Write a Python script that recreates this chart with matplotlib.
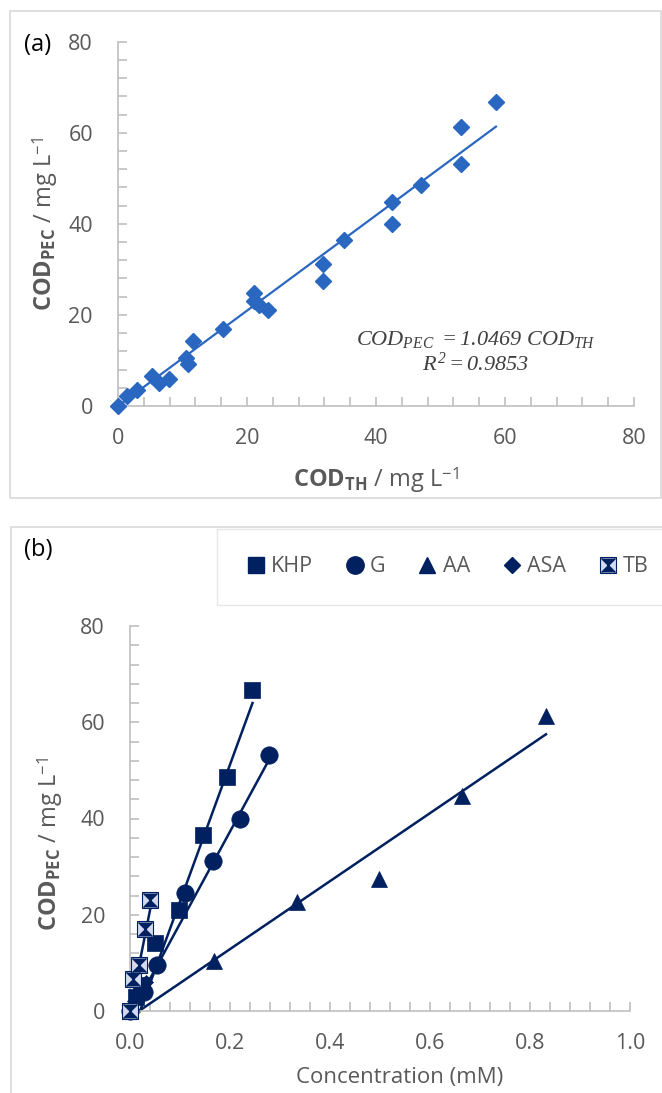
import matplotlib
matplotlib.use('Agg')
import matplotlib.pyplot as plt
from matplotlib.lines import Line2D
from matplotlib.patches import Rectangle
from matplotlib.path import Path
from matplotlib.ticker import MultipleLocator, FormatStrFormatter

W, H = 662, 1093

plt.rcParams['font.family'] = ['Open Sans', 'DejaVu Sans']
plt.rcParams['mathtext.fontset'] = 'custom'
# rm/it serve the italic serif equation, sf/bf the sans axis labels
plt.rcParams['mathtext.rm'] = 'Liberation Serif:italic'
plt.rcParams['mathtext.it'] = 'Liberation Serif:italic'
plt.rcParams['mathtext.sf'] = 'Open Sans'
plt.rcParams['mathtext.bf'] = 'Open Sans:bold'

# ---- panel (a): COD_PEC vs COD_TH
cod_th = [0, 1.4, 3.0, 5.2, 6.3, 7.9, 10.6, 10.8, 11.6, 16.3, 21.1, 21.1, 21.8, 23.3,
          31.8, 31.8, 35.1, 42.5, 42.5, 46.9, 53.2, 53.2, 58.6]
cod_pec = [0, 2.3, 3.6, 6.6, 5.1, 6.0, 10.6, 9.3, 14.2, 16.8, 24.8, 23.0, 22.2, 21.0,
           31.1, 27.5, 36.4, 44.8, 39.9, 48.6, 61.2, 53.2, 66.8]
slope_a = 1.0469
fit_a_x = [0, 58.6]

# ---- panel (b): COD_PEC vs concentration
khp_x = [0, 0.0125, 0.024, 0.049, 0.097, 0.146, 0.193, 0.243]
khp_y = [0, 3.0, 5.5, 14.2, 21.0, 36.6, 48.6, 66.8]
g_x = [0, 0.027, 0.054, 0.11, 0.166, 0.22, 0.277]
g_y = [0, 4.0, 9.6, 24.5, 31.2, 40.0, 53.2]
aa_x = [0, 0.167, 0.333, 0.498, 0.664, 0.832]
aa_y = [0, 10.4, 22.7, 27.5, 44.6, 61.3]
asa_x = [0, 0.008, 0.016, 0.024, 0.032]
asa_y = [0, 2.0, 3.2, 4.6, 6.0]
tb_x = [0, 0.006, 0.018, 0.03, 0.04]
tb_y = [0, 6.6, 9.6, 17.0, 23.0]

# trend lines (end points)
khp_fit = ([0.02, 0.245], [0, 64.0])
g_fit = ([0.005, 0.277], [0, 52.0])
aa_fit = ([0.018, 0.832], [0, 57.5])
asa_fit = ([0, 0.032], [0, 6.0])
tb_fit = ([0, 0.042], [0, 22.0])

labels_b = ['KHP', 'G', 'AA', 'ASA', 'TB']

blue = '#2a67c0'
navy = '#002060'
grey_txt = '#595959'
grey_ax = '#bfbfbf'

ylab = r'$\mathbf{COD_{PEC}}$ / mg L$^{\mathsf{-1}}$'
xlab = r'$\mathbf{COD_{TH}}$ / mg L$^{\mathsf{-1}}$'


def fx(x):
    return x / W


def fy(y):
    return 1 - y / H


def box(l, t, r, b):
    return [fx(l), fy(b), (r - l) / W, (b - t) / H]


def style(ax, xstep, ystep):
    for s in ['top', 'right']:
        ax.spines[s].set_visible(False)
    for s in ['left', 'bottom']:
        ax.spines[s].set_color(grey_ax)
        ax.spines[s].set_linewidth(1.2)
    ax.xaxis.set_minor_locator(MultipleLocator(xstep))
    ax.yaxis.set_minor_locator(MultipleLocator(ystep))
    ax.tick_params(which='both', direction='in', length=6.5, width=1.2, color=grey_ax,
                   labelcolor=grey_txt, labelsize=15.5)
    ax.tick_params(axis='y', which='both', pad=18)
    ax.tick_params(axis='x', which='both', pad=16)
    ax.set_facecolor('none')


fig = plt.figure(figsize=(W / 100, H / 100), dpi=100)

# outer frames
fig.patches.append(Rectangle((fx(10), fy(498)), (651) / W, (487) / H, transform=fig.transFigure,
                             fill=False, ec='#d9d9d9', lw=1.2))
fig.patches.append(Rectangle((fx(11), fy(1110)), (700) / W, (583) / H, transform=fig.transFigure,
                             fill=False, ec='#d9d9d9', lw=1.2))
# legend frame
fig.patches.append(Rectangle((fx(217), fy(605)), (460) / W, (76) / H, transform=fig.transFigure,
                             fill=False, ec='#e6e6e6', lw=1.0))

# ---- panel (a)
ax1 = fig.add_axes(box(118, 41.7, 634, 406))
style(ax1, 4, 4)
ax1.set_xlim(0, 80)
ax1.set_ylim(0, 80)
ax1.set_xticks([0, 20, 40, 60, 80])
ax1.set_yticks([0, 20, 40, 60, 80])
ax1.plot(fit_a_x, [slope_a * v for v in fit_a_x], color=blue, lw=1.6, zorder=2)
ax1.plot(cod_th, cod_pec, ls='none', marker='D', ms=8.5, mfc=blue, mec=blue, mew=1,
         clip_on=False, zorder=3)
ax1.text(55.5, 14.6, r'$COD_{PEC}\ = 1.0469\ COD_{TH}$',
         fontsize=16, color='#404040', ha='center', va='center')
ax1.text(55.5, 9.2, r'$R^2 = 0.9853$',
         fontsize=16, color='#404040', ha='center', va='center')

fig.text(fx(24), fy(45), '(a)', fontsize=17, color='black', va='center')
fig.text(fx(45), fy(224), ylab, rotation=90,
         fontsize=17, color=grey_txt, ha='center', va='center')
fig.text(fx(376), fy(480), xlab,
         fontsize=17, color=grey_txt, ha='center', va='center')

# ---- panel (b)
ax2 = fig.add_axes(box(130, 626, 630, 1011))
style(ax2, 0.04, 4)
ax2.set_xlim(0, 1.0)
ax2.set_ylim(0, 80)
ax2.set_xticks([0, 0.2, 0.4, 0.6, 0.8, 1.0])
ax2.set_yticks([0, 20, 40, 60, 80])
ax2.xaxis.set_major_formatter(FormatStrFormatter('%.1f'))

hg = Path([(-1, 1), (1, 1), (0, 0), (-1, 1), (-1, -1), (1, -1), (0, 0), (-1, -1)],
          [Path.MOVETO, Path.LINETO, Path.LINETO, Path.CLOSEPOLY,
           Path.MOVETO, Path.LINETO, Path.LINETO, Path.CLOSEPOLY])

for fx_, fy_ in [khp_fit, g_fit, aa_fit, asa_fit, tb_fit]:
    ax2.plot(fx_, fy_, color=navy, lw=1.8, zorder=2, clip_on=False)

kw = dict(ls='none', clip_on=False, zorder=3)
ax2.plot(khp_x, khp_y, marker='s', ms=12, mfc=navy, mec=navy, mew=0.5, **kw)
ax2.plot(g_x, g_y, marker='o', ms=12.5, mfc=navy, mec=navy, mew=0.5, **kw)
ax2.plot(aa_x, aa_y, marker='^', ms=12, mfc=navy, mec=navy, mew=0.5, **kw)
ax2.plot(asa_x, asa_y, marker='D', ms=7, mfc=navy, mec=navy, mew=0.5, **kw)
ax2.plot(tb_x, tb_y, marker='s', ms=11, mfc='#d3daee', mec=navy, mew=0.8, **kw)
ax2.plot(tb_x, tb_y, marker=hg, ms=10, mfc=navy, mec='none', **kw)
ax2.plot(tb_x, tb_y, marker='x', ms=10, mec=navy, mew=1.0, **kw)

fig.text(fx(24), fy(550), '(b)', fontsize=17, color='black', va='center')
fig.text(fx(50), fy(844), ylab, rotation=90,
         fontsize=17, color=grey_txt, ha='center', va='center')
fig.text(fx(400), fy(1077), 'Concentration (mM)',
         fontsize=16, color=grey_txt, ha='center', va='center')

# legend
lk = dict(ls='none', mec=navy)
h_khp = Line2D([], [], marker='s', ms=12, mfc=navy, **lk)
h_g = Line2D([], [], marker='o', ms=12.5, mfc=navy, **lk)
h_aa = Line2D([], [], marker='^', ms=12, mfc=navy, **lk)
h_asa = Line2D([], [], marker='D', ms=8.5, mfc=navy, **lk)
h_tb = (Line2D([], [], marker='s', ms=11, mfc='#d3daee', mew=0.8, **lk),
        Line2D([], [], marker=hg, ms=10, mfc=navy, ls='none', mec='none'),
        Line2D([], [], marker='x', ms=10, mew=1.0, **lk))
fig.legend([h_khp, h_g, h_aa, h_asa, h_tb], labels_b, ncol=5, loc='center left',
           bbox_to_anchor=(fx(245), fy(567)), frameon=False, fontsize=15.5,
           handlelength=1.0, handletextpad=0.2, columnspacing=1.45, borderpad=0,
           borderaxespad=0, labelcolor=grey_txt)

fig.savefig('out.png', dpi=100)
